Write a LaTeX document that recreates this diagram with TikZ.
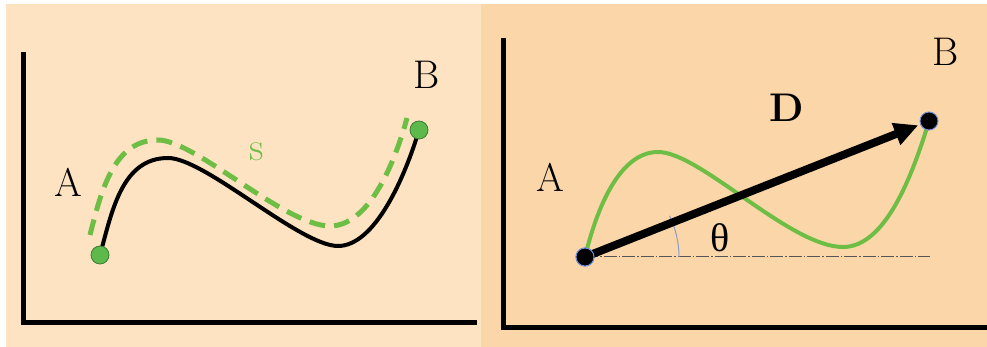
\documentclass[tikz,border=0pt]{standalone}
\usepackage{fontspec}
\newfontfamily\thetafont{Liberation Serif}
\usetikzlibrary{arrows.meta}
\definecolor{pathBgLeft}{HTML}{FDE3C1}
\definecolor{pathBgRight}{HTML}{FBD6A9}
\definecolor{pathGreen}{HTML}{6EBE46}
\definecolor{dotGreen}{HTML}{5DB94B}
\definecolor{dotRim}{HTML}{3E7D33}
\definecolor{dotBlue}{HTML}{6F8FD6}
\definecolor{arcBlue}{HTML}{8A9CC8}
\definecolor{refGray}{HTML}{555555}
\tikzset{
  axisLine/.style={line width=5pt, black},
  pathLabel/.style={font=\fontsize{40}{44}\selectfont, inner sep=0pt},
  blackPath/.style={line width=4pt, black},
  greenPath/.style={line width=4pt, pathGreen},
  lengthPath/.style={line width=5pt, pathGreen, dash pattern={on 16pt off 9pt}},
  greenDot/.style={circle, fill=dotGreen, draw=dotRim, line width=0.8pt,
    minimum size=18pt, inner sep=0pt},
  blackDot/.style={circle, fill=black, draw=dotBlue, line width=1pt,
    minimum size=18pt, inner sep=0pt},
  dispArrow/.style={line width=8pt, black, shorten >=2pt,
    -{Triangle[length=24pt,width=22pt]}},
  refLine/.style={line width=1pt, refGray, dash pattern={on 13pt off 2pt on 1.5pt off 2pt}},
  angleArc/.style={line width=1pt, arcBlue}
}
\begin{document}
\begin{tikzpicture}[x=1pt,y=1pt]
  \useasboundingbox (0,0) rectangle (987,347);
  \fill[white] (0,0) rectangle (987,347);
  \fill[pathBgLeft] (6,0) rectangle (481,343);
  \fill[pathBgRight] (481,0) rectangle (987,343);

  % path length s
  \draw[axisLine] (23,295) -- (23,24) -- (477,24);
  \coordinate (sA) at (100,92);
  \coordinate (sB) at (419,217);
  \coordinate (sPeak) at (168,189);
  \coordinate (sTrough) at (338,101);
  \coordinate (sStart) at (90,112);
  \coordinate (sEnd) at (407,229);
  \draw[lengthPath] (sStart) .. controls (102,160) and (115,207) .. (158,207)
    .. controls (195,207) and (285,121) .. (330,121)
    .. controls (367,121) and (393,178) .. (sEnd);
  \draw[blackPath] (sA) .. controls (112,136) and (122,189) .. (sPeak)
    .. controls (205,189) and (300,101) .. (sTrough)
    .. controls (375,101) and (405,170) .. (sB);
  \node[greenDot] (dotSA) at (sA) {};
  \node[greenDot] (dotSB) at (sB) {};
  \node[pathLabel] (labSA) at (68,165) {A};
  \node[pathLabel] (labSB) at (427,272) {B};
  \node[pathLabel, text=pathGreen] (labS) at (257,195) {s};

  % displacement D
  \draw[axisLine] (503,309) -- (503,19) -- (987,19);
  \coordinate (dA) at (585,90);
  \coordinate (dB) at (929,226);
  \coordinate (dEnd) at (930,90);
  \draw[refLine] (dA) -- (dEnd);
  \draw[greenPath] (dA) .. controls (597,140) and (620,195) .. (658,195)
    .. controls (700,195) and (790,100) .. (843,100)
    .. controls (885,100) and (912,170) .. (dB);
  \draw[angleArc] (dA) ++(0:94) arc[start angle=0, end angle=26, radius=94];
  \node[blackDot] (dotDA) at (dA) {};
  \node[blackDot] (dotDB) at (dB) {};
  \draw[dispArrow] (dotDA.center) -- (dotDB);
  \node[blackDot] at (dA) {};
  \node[pathLabel] (labDA) at (550,170) {A};
  \node[pathLabel] (labDB) at (946,295) {B};
  \node[pathLabel] (labD) at (787,239) {\textbf{D}};
  \node[pathLabel] (labTheta) at (720,109) {\thetafont θ};
\end{tikzpicture}
\end{document}
